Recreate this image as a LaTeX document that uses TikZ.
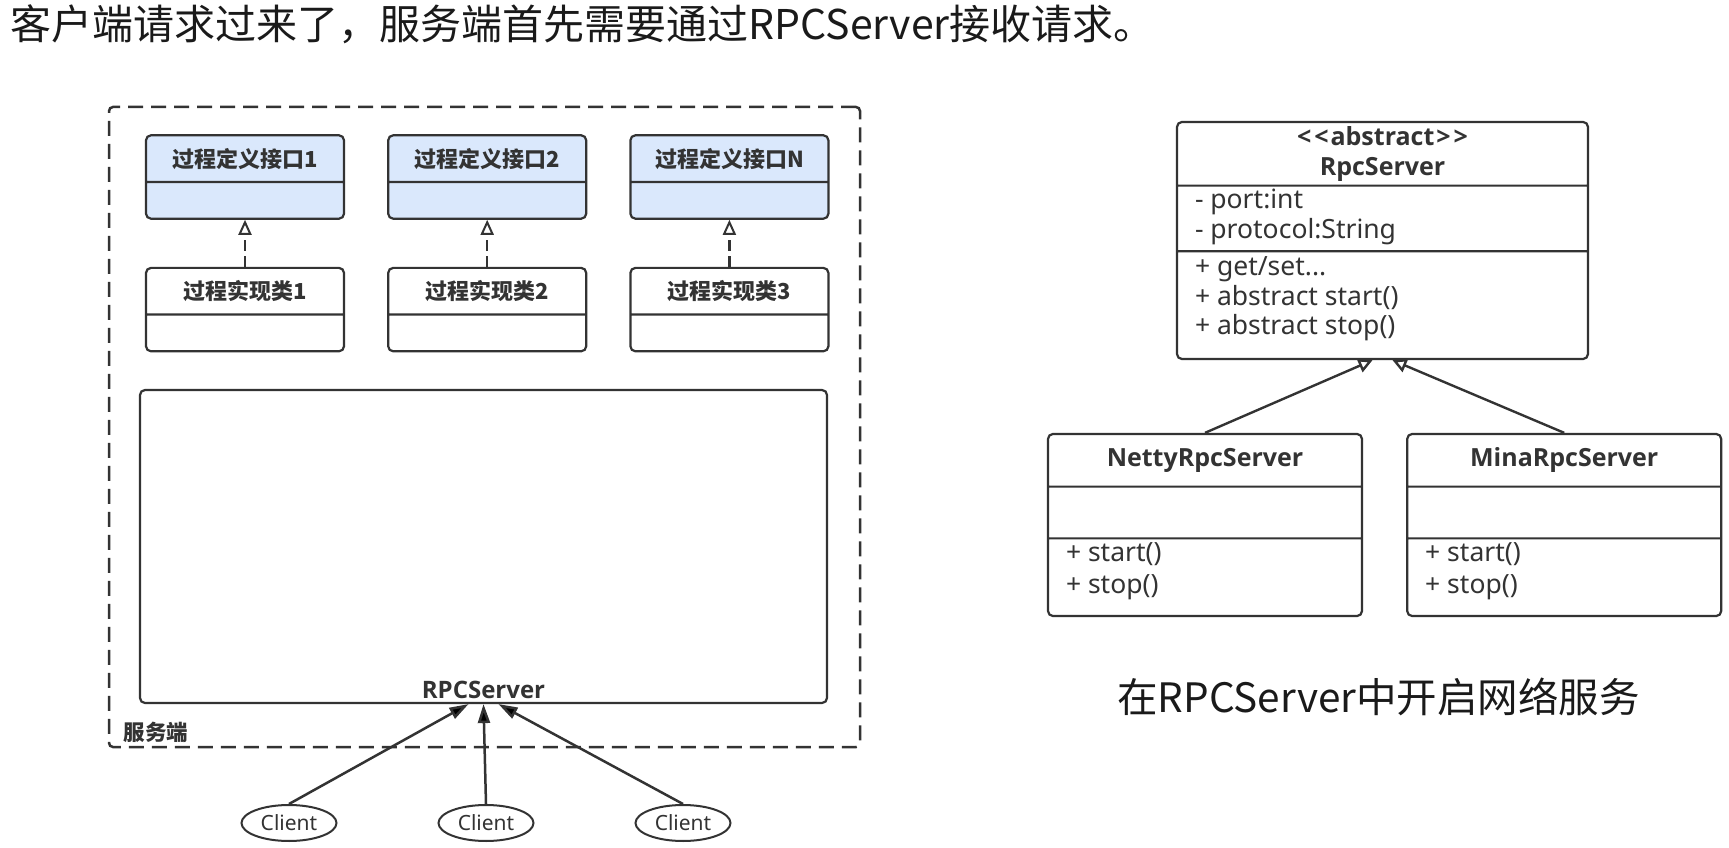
\documentclass[tikz,border=0pt]{standalone}
\usepackage{fontspec}
\setmainfont{Noto Sans CJK SC}
\newfontfamily\latinfont{Noto Sans}
\IfFontExistsTF{Open Sans Bold}
    {\newfontfamily\latinbold{Open Sans Bold}}
    {\IfFontExistsTF{Noto Sans Bold}
        {\newfontfamily\latinbold{Noto Sans Bold}}
        {\newfontfamily\latinbold{Noto Sans}[FakeBold=2.5]}}
\usepackage{tikz}
\usetikzlibrary{positioning, shapes.multipart, shapes.geometric, arrows.meta}
\definecolor{lineGray}{HTML}{333333}
\definecolor{ifaceBlue}{HTML}{DAE8FC}
\definecolor{textBlack}{HTML}{1A1A1A}
\newcommand{\HeadFont}{\fontsize{22}{29}\selectfont\bfseries}
\newcommand{\ClassFont}{\latinbold\fontsize{25}{30}\selectfont}
\newcommand{\ListFont}{\latinfont\fontsize{26.5}{30}\selectfont}
\tikzset{BoxBase/.style={%
    draw=lineGray,%
    line width=2.2pt,%
    rounded corners=5pt,%
    inner sep=0pt,%
    text=lineGray,%
}}
\tikzset{IfaceBox/.style={%
    BoxBase,%
    rectangle split,%
    rectangle split parts=2,%
    fill=ifaceBlue,%
}}
\tikzset{ImplBox/.style={%
    BoxBase,%
    rectangle split,%
    rectangle split parts=2,%
    fill=white,%
}}
\tikzset{ClassBox/.style={%
    BoxBase,%
    rectangle split,%
    rectangle split parts=3,%
    fill=white,%
}}
\tikzset{ClientNode/.style={%
    shape=ellipse,%
    draw=lineGray,%
    line width=2pt,%
    minimum width=95pt,%
    minimum height=36pt,%
    inner sep=0pt,%
    text=lineGray,%
    font=\latinfont\fontsize{21}{23}\selectfont,%
}}
\tikzset{RealizeEdge/.style={%
    -{Triangle[open, length=15pt, width=13pt, line width=2pt]},%
    draw=lineGray,%
    line width=2.2pt,%
    dash pattern=on 11pt off 5pt,%
}}
\tikzset{InheritEdge/.style={%
    -{Triangle[open, length=14pt, width=14pt]},%
    draw=lineGray,%
    line width=2.4pt,%
}}
\tikzset{CallEdge/.style={%
    -{Triangle[length=19pt, width=12pt]},%
    draw=lineGray,%
    line width=2.5pt,%
}}
\NewDocumentCommand{\headPart}{m m +m}{%
    \parbox[c][#1][c]{#2}{\centering #3}%
}
\NewDocumentCommand{\listPart}{m m +m}{%
    \parbox[c][#1][c]{#2}{\ListFont\leftskip=18pt #3}%
}

\begin{document}
\begin{tikzpicture}[x=1pt, y=1pt]
    \useasboundingbox (0,0) rectangle (1729,847);

    \node[anchor=west, text=textBlack, font=\fontsize{41}{44}\selectfont] (title) at (7,823)
        {客户端请求过来了，服务端首先需要通过RPCServer接收请求。};

    % left: server side
    \node[draw=lineGray, line width=2.5pt, dash pattern=on 15pt off 8pt, rounded corners=4pt,
          minimum width=751pt, minimum height=640pt] (server) at (484.5,420) {};
    \node[anchor=south west, inner sep=0pt, text=lineGray, font=\fontsize{21.5}{24}\selectfont\bfseries]
        (serverLabel) at ([xshift=16pt, yshift=5pt]server.south west) {服务端};

    \node[IfaceBox] (if1) at (245,670)
        {\headPart{44.5pt}{198pt}{\HeadFont 过程定义接口1}\nodepart{two}\listPart{34.5pt}{198pt}{}};
    \node[IfaceBox, right=42pt of if1] (if2)
        {\headPart{44.5pt}{198pt}{\HeadFont 过程定义接口2}\nodepart{two}\listPart{34.5pt}{198pt}{}};
    \node[IfaceBox, right=42pt of if2] (if3)
        {\headPart{44.5pt}{198pt}{\HeadFont 过程定义接口N}\nodepart{two}\listPart{34.5pt}{198pt}{}};

    \node[ImplBox, below=47pt of if1] (im1)
        {\headPart{44.5pt}{198pt}{\HeadFont 过程实现类1}\nodepart{two}\listPart{34.5pt}{198pt}{}};
    \node[ImplBox, below=47pt of if2] (im2)
        {\headPart{44.5pt}{198pt}{\HeadFont 过程实现类2}\nodepart{two}\listPart{34.5pt}{198pt}{}};
    \node[ImplBox, below=47pt of if3] (im3)
        {\headPart{44.5pt}{198pt}{\HeadFont 过程实现类3}\nodepart{two}\listPart{34.5pt}{198pt}{}};

    \node[BoxBase, minimum width=687pt, minimum height=313pt] (rpc) at (483.5,300.5) {};
    \node[anchor=south, inner sep=0pt, text=lineGray, font=\latinbold\fontsize{24}{27}\selectfont]
        (rpcLabel) at ([yshift=5pt]rpc.south) {RPCServer};

    \node[ClientNode] (cl1) at (289,24) {Client};
    \node[ClientNode, right=100pt of cl1] (cl2) {Client};
    \node[ClientNode, right=100pt of cl2] (cl3) {Client};

    \draw[RealizeEdge] (im1.north) -- (if1.south);
    \draw[RealizeEdge] (im2.north) -- (if2.south);
    \draw[RealizeEdge] (im3.north) -- (if3.south);

    \draw[CallEdge] (cl1.north) -- ([xshift=-15pt]rpc.south);
    \draw[CallEdge] (cl2.north) -- (rpc.south);
    \draw[CallEdge] (cl3.north) -- ([xshift=15pt]rpc.south);

    % right: class hierarchy
    \node[ClassBox] (abs) at (1382.5,606.5)
        {\headPart{61.5pt}{411pt}{\ClassFont <\kern3pt<\kern2pt abstract\kern2pt>\kern3pt>\\RpcServer}%
         \nodepart{two}\listPart{63.5pt}{411pt}{- port:int\\- protocol:String\par\vspace{3pt}}%
         \nodepart{three}\listPart{105.5pt}{411pt}{\baselineskip=29.5pt + get/set...\\+ abstract start()\\+ abstract stop()\par\vspace{12pt}}};
    \node[ClassBox] (netty) at (1205,322)
        {\headPart{50.5pt}{314pt}{\ClassFont NettyRpcServer}%
         \nodepart{two}\listPart{49.5pt}{314pt}{}%
         \nodepart{three}\listPart{75.5pt}{314pt}{\baselineskip=32pt + start()\\+ stop()\par\vspace{11pt}}};
    \node[ClassBox, right=43pt of netty] (mina)
        {\headPart{50.5pt}{314pt}{\ClassFont MinaRpcServer}%
         \nodepart{two}\listPart{49.5pt}{314pt}{}%
         \nodepart{three}\listPart{75.5pt}{314pt}{\baselineskip=32pt + start()\\+ stop()\par\vspace{11pt}}};

    \draw[InheritEdge] (netty.north) -- ([xshift=-10pt]abs.south);
    \draw[InheritEdge] (mina.north) -- ([xshift=10pt]abs.south);

    \node[text=textBlack, font=\fontsize{40.5}{44}\selectfont] (caption) at (1378.5,150)
        {在RPCServer中开启网络服务};
\end{tikzpicture}
\end{document}
